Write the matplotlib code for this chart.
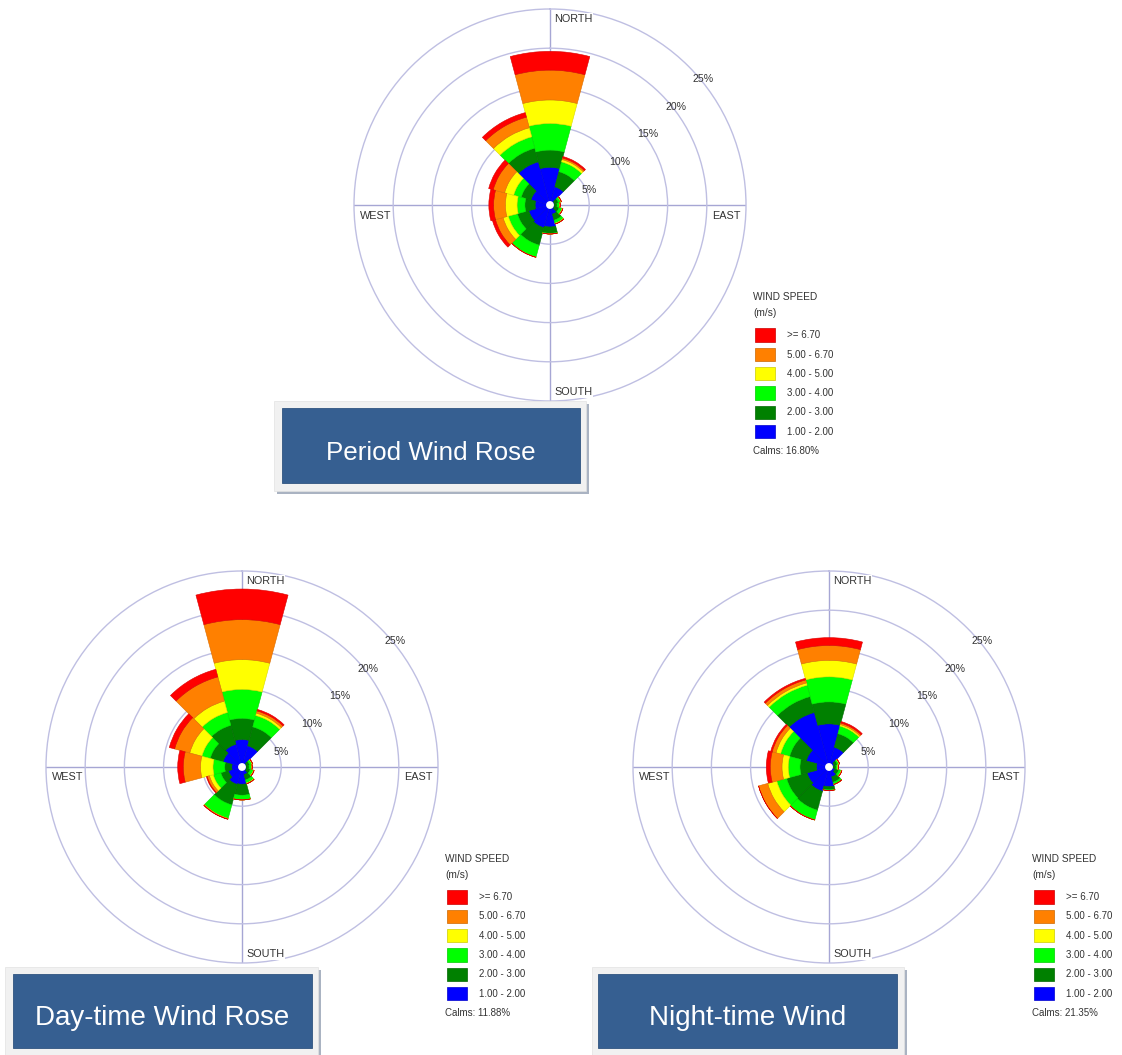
import numpy as np
import matplotlib
matplotlib.use("Agg")
import matplotlib.pyplot as plt
from matplotlib.patches import Rectangle

plt.rcParams['font.family'] = ['Liberation Sans', 'DejaVu Sans']

# ---------------- data ----------------
directions = [0, 30, 60, 90, 120, 150, 180, 210, 240, 270, 300, 330]
speed_labels = [">= 6.70", "5.00 - 6.70", "4.00 - 5.00", "3.00 - 4.00", "2.00 - 3.00", "1.00 - 2.00"]
# colours for classes from slowest (1-2) to fastest (>=6.7)
class_colors = ['#0000ff', '#008000', '#00ff00', '#ffff00', '#ff8000', '#ff0000']
ring_values = [5, 10, 15, 20, 25]

# frequency (%) per speed class (rows: 1-2, 2-3, 3-4, 4-5, 5-6.7, >=6.7) per direction
period_freq = [
    [4.8, 2.4, 0.6, 0.5, 0.6, 1.2, 2.8, 3.0, 2.8, 1.9, 2.5, 5.7],
    [2.2, 2.0, 0.5, 0.4, 0.6, 0.8, 0.8, 2.3, 1.5, 1.3, 1.3, 1.8],
    [3.4, 1.3, 0.3, 0.3, 0.4, 0.4, 0.1, 1.6, 1.2, 1.0, 1.0, 1.5],
    [3.0, 0.3, 0.1, 0.1, 0.1, 0.1, 0.0, 0.0, 0.7, 1.5, 1.2, 1.2],
    [3.8, 0.2, 0.0, 0.0, 0.0, 0.0, 0.0, 0.0, 1.0, 1.5, 1.5, 1.4],
    [2.4, 0.2, 0.0, 0.0, 0.0, 0.0, 0.0, 0.0, 0.4, 0.6, 0.6, 0.6],
]
day_freq = [
    [3.5, 2.8, 0.6, 0.5, 0.6, 1.0, 2.2, 2.3, 1.8, 1.3, 2.5, 3.0],
    [2.7, 2.5, 0.4, 0.4, 0.5, 0.7, 1.4, 2.7, 1.0, 0.9, 1.7, 2.5],
    [3.7, 1.5, 0.3, 0.3, 0.4, 0.4, 0.6, 1.8, 1.0, 1.5, 1.1, 1.7],
    [3.8, 0.3, 0.1, 0.1, 0.1, 0.1, 0.0, 0.0, 0.5, 1.6, 1.6, 1.5],
    [5.1, 0.3, 0.0, 0.0, 0.0, 0.0, 0.0, 0.1, 0.3, 2.2, 2.0, 3.2],
    [3.9, 0.2, 0.0, 0.0, 0.0, 0.0, 0.0, 0.0, 0.1, 0.7, 0.7, 1.0],
]
night_freq = [
    [5.5, 2.6, 0.7, 0.5, 0.8, 1.3, 2.5, 3.2, 2.9, 1.6, 3.0, 7.2],
    [2.8, 1.8, 0.4, 0.4, 0.5, 0.7, 0.4, 2.5, 2.7, 2.1, 2.2, 2.1],
    [3.2, 1.0, 0.2, 0.2, 0.3, 0.3, 0.1, 1.3, 1.3, 1.5, 1.2, 1.5],
    [2.1, 0.2, 0.1, 0.1, 0.1, 0.0, 0.0, 0.0, 1.2, 0.8, 0.6, 0.3],
    [1.9, 0.2, 0.0, 0.0, 0.0, 0.0, 0.0, 0.0, 1.2, 1.5, 0.5, 0.4],
    [1.0, 0.2, 0.0, 0.0, 0.0, 0.0, 0.0, 0.0, 0.0, 0.5, 0.2, 0.2],
]
calms = ["16.80%", "11.88%", "21.35%"]
titles = ["Period Wind Rose", "Day-time Wind Rose", "Night-time Wind"]

# ---------------- layout ----------------
W, H = 1122, 1055
fig = plt.figure(figsize=(W / 100, H / 100), dpi=100)
fig.patch.set_facecolor('white')


def fx(x):
    return x / W


def fy(y):
    return 1 - y / H


def darker(c, f=0.8):
    r, g, b = matplotlib.colors.to_rgb(c)
    return (r * f, g * f, b * f)


R = 196
TXT = '#333333'
RING = '#bfbfe2'


def draw_rose(cx, cy, freq, calm_text):
    ax = fig.add_axes([fx(cx - R), fy(cy + R), 2 * R / W, 2 * R / H], projection='polar')
    ax.set_theta_zero_location('N')
    ax.set_theta_direction(-1)
    ax.set_ylim(0, 25)
    ax.set_yticks(ring_values[:-1])
    ax.set_yticklabels([])
    ax.set_xticks(np.radians([0, 90, 180, 270]))
    ax.set_xticklabels([])
    ax.yaxis.grid(True, color=RING, lw=1.0)
    ax.xaxis.grid(True, color='#a6a6d4', lw=1.0)
    ax.spines['polar'].set_color(RING)
    ax.spines['polar'].set_linewidth(1.0)
    ax.set_axisbelow(True)
    ax.patch.set_alpha(0)

    theta = np.radians(directions)
    width = np.radians(30)
    bottom = np.zeros(len(directions))
    for vals, col in zip(freq, class_colors):
        vals = np.array(vals)
        ax.bar(theta, vals, width=width, bottom=bottom, color=col,
               edgecolor=darker(col, 0.85), linewidth=0.4, zorder=3)
        bottom = bottom + vals
    # calm circle
    ax.bar(0, 0.5, width=2 * np.pi, bottom=0, color='white', edgecolor='none', zorder=4)

    for r in ring_values:
        ax.annotate(f"{r}%", xy=(np.radians(45), r), xytext=(3.0, -5.4),
                    textcoords='offset points', ha='left', va='top',
                    fontsize=7.6, color=TXT, zorder=5)

    fs = 7.8
    fig.text(fx(cx + 4), fy(cy - 186), "NORTH", ha='left', va='center', fontsize=fs,
             color=TXT, bbox=dict(facecolor='white', edgecolor='none', pad=0.5))
    fig.text(fx(cx + 4), fy(cy + 187), "SOUTH", ha='left', va='center', fontsize=fs,
             color=TXT, bbox=dict(facecolor='white', edgecolor='none', pad=0.5))
    fig.text(fx(cx - 190), fy(cy + 10.5), "WEST", ha='left', va='center', fontsize=fs, color=TXT)
    fig.text(fx(cx + 191), fy(cy + 10.5), "EAST", ha='right', va='center', fontsize=fs, color=TXT)

    # legend
    lx = cx + 203
    fig.text(fx(lx), fy(cy + 92.5), "WIND SPEED", ha='left', va='center', fontsize=7.3, color=TXT)
    fig.text(fx(lx), fy(cy + 107.5), "(m/s)", ha='left', va='center', fontsize=7.3, color=TXT)
    for i, lab in enumerate(speed_labels):
        col = class_colors[::-1][i]
        top = cy + 123.3 + i * 19.3
        fig.add_artist(Rectangle((fx(lx + 2), fy(top + 13.5)), 20 / W, 13.5 / H,
                                 transform=fig.transFigure, facecolor=col,
                                 edgecolor=darker(col, 0.8), lw=0.5))
        fig.text(fx(cx + 236.7), fy(top + 6.9), lab, ha='left', va='center',
                 fontsize=7.0, color=TXT)
    fig.text(fx(lx), fy(cy + 246), "Calms: " + calm_text, ha='left', va='center',
             fontsize=7.0, color=TXT)
    return ax


def draw_title(frame, inner, text, tx, baseline, fs):
    x0, y0, x1, y1 = frame
    fig.add_artist(Rectangle((fx(x0 + 3), fy(y1 + 3)), (x1 - x0) / W, (y1 - y0) / H,
                             transform=fig.transFigure, facecolor='#aab3c2',
                             edgecolor='none', zorder=10))
    fig.add_artist(Rectangle((fx(x0), fy(y1)), (x1 - x0) / W, (y1 - y0) / H,
                             transform=fig.transFigure, facecolor='#f1f1f1',
                             edgecolor='#e2e2e2', lw=0.5, zorder=11))
    a0, b0, a1, b1 = inner
    fig.add_artist(Rectangle((fx(a0), fy(b1)), (a1 - a0) / W, (b1 - b0) / H,
                             transform=fig.transFigure, facecolor='#365f91',
                             edgecolor='#2f5480', lw=0.6, zorder=12))
    fig.text(fx(tx), fy(baseline), text, ha='center', va='baseline', fontsize=fs,
             color='white', zorder=13)


draw_rose(550, 205, period_freq, calms[0])
draw_rose(242, 767, day_freq, calms[1])
draw_rose(829, 767, night_freq, calms[2])

draw_title((274, 401, 586, 491), (281.7, 408.3, 580, 483.3), titles[0], 430.8, 460, 18.7)
draw_title((5, 967, 318, 1058), (13.3, 974, 311.7, 1048.3), titles[1], 162, 1025, 20)
draw_title((592, 967, 904, 1058), (598.3, 974, 896.7, 1048.3), titles[2], 748, 1025, 20)

fig.savefig("out.png", dpi=100, facecolor='white')
